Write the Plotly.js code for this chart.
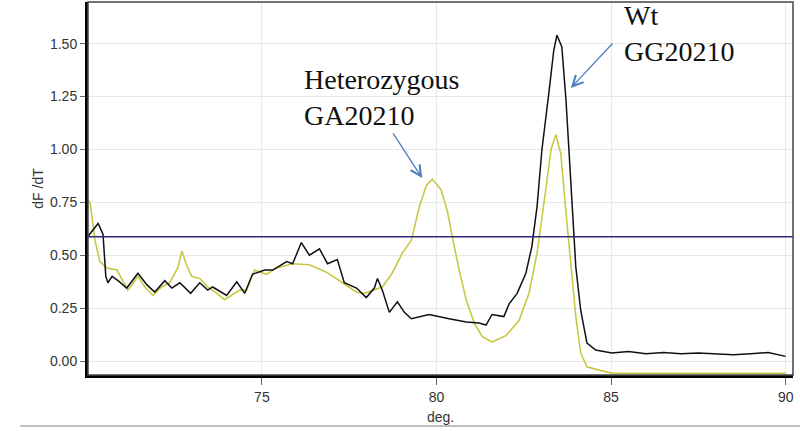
<!DOCTYPE html>
<html>
<head>
<meta charset="utf-8">
<script src="https://cdn.plot.ly/plotly-3.0.1.min.js"></script>
<style>html,body{margin:0;padding:0;background:#fff;}#chart{width:800px;height:431px;}</style>
</head>
<body>
<div id="chart"></div>
<script>
// Wild type GG20210 (black)
const wtTemp = [70.02,70.31,70.45,70.53,70.59,70.71,70.88,71.13,71.45,71.71,71.93,72.22,72.42,72.65,72.96,73.22,73.45,73.59,73.99,74.28,74.51,74.73,75.08,75.31,75.71,75.88,76.13,76.36,76.65,76.88,77.16,77.36,77.71,77.99,78.22,78.31,78.45,78.65,78.88,79.08,79.28,79.79,80.36,80.85,81.22,81.42,81.59,81.93,82.08,82.31,82.56,82.73,82.88,83.02,83.22,83.36,83.45,83.59,83.71,83.85,83.99,84.13,84.31,84.56,85.02,85.5,86.0,86.5,87.0,87.5,88.0,88.5,89.0,89.5,90.0];
const wtDfdt = [0.59,0.65,0.60,0.40,0.37,0.40,0.38,0.345,0.415,0.36,0.326,0.38,0.345,0.37,0.32,0.37,0.335,0.35,0.31,0.375,0.32,0.41,0.43,0.43,0.47,0.46,0.56,0.50,0.53,0.46,0.48,0.37,0.345,0.30,0.345,0.39,0.335,0.23,0.28,0.23,0.20,0.22,0.20,0.185,0.18,0.17,0.22,0.21,0.27,0.32,0.415,0.54,0.73,1.00,1.27,1.47,1.54,1.485,1.23,0.86,0.445,0.24,0.085,0.052,0.038,0.045,0.035,0.04,0.035,0.038,0.035,0.03,0.035,0.04,0.022];
// Heterozygous GA20210 (yellow)
const hetTemp = [70.02,70.08,70.22,70.36,70.56,70.85,71.16,71.45,71.65,71.88,72.13,72.36,72.59,72.71,72.85,72.99,73.22,73.45,73.71,73.93,74.36,74.56,74.79,75.13,75.42,75.88,76.36,76.85,77.31,77.71,77.93,78.45,78.73,79.02,79.28,79.51,79.71,79.88,80.13,80.31,80.45,80.65,80.85,81.08,81.31,81.59,81.99,82.36,82.65,82.88,83.13,83.28,83.42,83.56,83.71,83.85,83.99,84.13,84.31,84.65,85.02,86.0,87.0,88.0,89.0,90.0];
const hetDfdt = [0.76,0.75,0.57,0.47,0.44,0.43,0.335,0.40,0.35,0.31,0.35,0.37,0.44,0.52,0.45,0.40,0.39,0.35,0.32,0.29,0.335,0.335,0.43,0.41,0.44,0.46,0.455,0.42,0.37,0.325,0.32,0.35,0.415,0.51,0.57,0.73,0.83,0.86,0.81,0.71,0.59,0.43,0.29,0.18,0.115,0.09,0.12,0.19,0.32,0.51,0.81,1.00,1.07,0.98,0.70,0.445,0.21,0.038,-0.027,-0.043,-0.057,-0.058,-0.058,-0.058,-0.058,-0.058];
const threshold = 0.588;
const yTicks = [0, 0.25, 0.5, 0.75, 1.0, 1.25, 1.5];
const xTicks = [75, 80, 85, 90];
const labels = {het: "Heterozygous<br>GA20210", wt: "Wt<br>GG20210", yTitle: "dF /dT", xTitle: "deg."};

const traces = [
  {x: hetTemp, y: hetDfdt, type: 'scatter', mode: 'lines', line: {color: '#c9c845', width: 1.6}, hoverinfo: 'skip'},
  {x: wtTemp, y: wtDfdt, type: 'scatter', mode: 'lines', line: {color: '#111111', width: 1.5}, hoverinfo: 'skip'}
];
const serif = {family: 'Liberation Serif, Times New Roman, serif', size: 28, color: '#111'};
const arrowColor = '#4a7ebb';
const layout = {
  width: 800, height: 431,
  margin: {l: 88, r: 7, t: 2, b: 56},
  paper_bgcolor: '#fff', plot_bgcolor: '#fff',
  showlegend: false,
  font: {family: 'Liberation Sans, Arial, sans-serif', size: 14, color: '#333'},
  xaxis: {
    range: [70.02, 90.21], tickvals: xTicks, ticks: 'outside', ticklen: 7, tickcolor: '#666',
    showgrid: true, gridcolor: '#e8e8e8', zeroline: false,
    showline: true, linecolor: '#000', linewidth: 3,
    title: {text: labels.xTitle, standoff: 9, font: {size: 14, color: '#333'}},
    tickfont: {size: 14, color: '#333'}
  },
  yaxis: {
    range: [-0.066, 1.697], tickvals: yTicks, tickformat: '.2f', ticks: 'outside', ticklen: 5, tickcolor: '#666',
    showgrid: true, gridcolor: '#e8e8e8', zeroline: false,
    showline: true, linecolor: '#000', linewidth: 3,
    title: {text: labels.yTitle, standoff: 4, font: {size: 14, color: '#333'}},
    tickfont: {size: 14, color: '#333'}
  },
  shapes: [
    {type: 'line', xref: 'paper', yref: 'y', x0: 0, x1: 1, y0: threshold, y1: threshold, line: {color: '#2b2b7a', width: 1.5}},
    {type: 'rect', xref: 'paper', yref: 'paper', x0: 0, x1: 1, y0: 0, y1: 1, line: {color: '#444', width: 1.5}},
    {type: 'line', xref: 'paper', yref: 'paper', x0: -0.096, x1: 1.02, y0: -0.137, y1: -0.137, line: {color: '#aaa', width: 1.5}}
  ],
  annotations: [
    {x: 76.16, y: 1.248, xref: 'x', yref: 'y', text: labels.het, showarrow: false, xanchor: 'left', yanchor: 'middle', align: 'left', font: serif},
    {x: 85.31, y: 1.546, xref: 'x', yref: 'y', text: labels.wt, showarrow: false, xanchor: 'left', yanchor: 'middle', align: 'left', font: serif},
    {x: 79.59, y: 0.865, ax: 78.73, ay: 1.083, xref: 'x', yref: 'y', axref: 'x', ayref: 'y', text: '', showarrow: true, arrowhead: 5, arrowsize: 1.6, arrowwidth: 1.3, arrowcolor: arrowColor, standoff: 0},
    {x: 83.85, y: 1.291, ax: 85.08, ay: 1.508, xref: 'x', yref: 'y', axref: 'x', ayref: 'y', text: '', showarrow: true, arrowhead: 5, arrowsize: 1.6, arrowwidth: 1.3, arrowcolor: arrowColor, standoff: 0}
  ]
};
Plotly.newPlot('chart', traces, layout, {staticPlot: true, displayModeBar: false});
</script>
</body>
</html>
